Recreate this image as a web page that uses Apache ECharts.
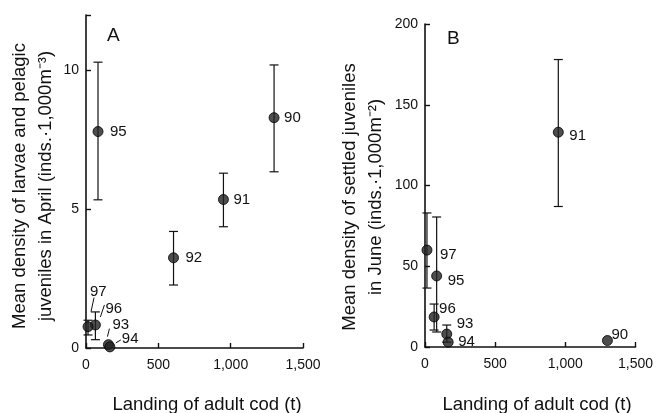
<!DOCTYPE html>
<html><head><meta charset="utf-8">
<script src="https://cdn.jsdelivr.net/npm/echarts@6/dist/echarts.min.js"></script>
<style>html,body{margin:0;padding:0;background:#fff}#c{width:656px;height:413px}</style>
</head><body><div id="c"></div>
<script>
// Data
const years = ['90','91','92','93','94','95','96','97'];
const landing = [1300, 950, 605, 155, 165, 83, 65, 14];
// Panel A: larvae and pelagic juveniles in April
const aMean = [8.3, 5.35, 3.25, 0.12, 0.04, 7.8, 0.83, 0.77];
const aLow  = [6.35, 4.37, 2.27, null, null, 5.34, 0.3, 0.47];
const aHigh = [10.2, 6.3, 4.2, null, null, 10.3, 1.3, 1.0];
// Panel B: settled juveniles in June (no 92)
const bMean = [4, 133, null, 8, 3, 44, 18.6, 60];
const bLow  = [null, 87, null, 3, null, 9.3, 10.5, 36.5];
const bHigh = [null, 178, null, 13.6, null, 80.5, 26.6, 83];
const xTicks = [0, 500, 1000, 1500];
const aTicks = [0, 5, 10];
const bTicks = [0, 50, 100, 150, 200];

// label placement styles (pixel offsets from point)
const aLabelStyle = {
  '90': {dx: 10, dy: 0}, '91': {dx: 10, dy: 0}, '92': {dx: 12, dy: 0}, '95': {dx: 12, dy: 0},
  '97': {dx: 2, dy: -35, line: [6, -29, 3, -15]},
  '96': {dx: 10, dy: -16, line: [9, -20, 5, -8]},
  '93': {dx: 4, dy: -20, line: [1, -16, -1, -8]},
  '94': {dx: 12, dy: -8, line: [11, -7, 6, -4]}
};
const bLabelStyle = {
  '90': {dx: 4, dy: -6}, '91': {dx: 11, dy: 4}, '97': {dx: 13, dy: 5}, '95': {dx: 11, dy: 5},
  '96': {dx: 5, dy: -8}, '93': {dx: 10, dy: -10}, '94': {dx: 10, dy: 0}
};

function build(mean, low, high) {
  const pts = [], bars = [], labs = [];
  for (let i = 0; i < years.length; i++) {
    if (mean[i] == null) continue;
    pts.push([landing[i], mean[i]]);
    labs.push([landing[i], mean[i], years[i]]);
    if (low[i] != null) bars.push([landing[i], low[i], high[i]]);
  }
  return {pts, bars, labs};
}
const A = build(aMean, aLow, aHigh);
const B = build(bMean, bLow, bHigh);

const INK = '#111';
const FONT = '"Liberation Sans", Arial, sans-serif';

function errRender(params, api) {
  const x = api.value(0);
  const p1 = api.coord([x, api.value(1)]);
  const p2 = api.coord([x, api.value(2)]);
  const w = 4.5;
  const st = {stroke: INK, lineWidth: 1.2};
  return {type: 'group', children: [
    {type: 'line', shape: {x1: p1[0], y1: p1[1], x2: p2[0], y2: p2[1]}, style: st},
    {type: 'line', shape: {x1: p1[0]-w, y1: p1[1], x2: p1[0]+w, y2: p1[1]}, style: st},
    {type: 'line', shape: {x1: p2[0]-w, y1: p2[1], x2: p2[0]+w, y2: p2[1]}, style: st}
  ]};
}
function labRender(styles) {
  return function(params, api) {
    const p = api.coord([api.value(0), api.value(1)]);
    const key = years[landing.indexOf(api.value(0))];
    const s = styles[key] || {dx: 10, dy: 0};
    const ch = [{type: 'text', x: p[0] + s.dx, y: p[1] + s.dy,
      style: {text: key, fill: INK, font: '15px ' + FONT, textAlign: 'left', textVerticalAlign: 'middle'}}];
    if (s.line) ch.push({type: 'line', shape: {x1: p[0]+s.line[0], y1: p[1]+s.line[1], x2: p[0]+s.line[2], y2: p[1]+s.line[3]},
      style: {stroke: INK, lineWidth: 1}});
    return {type: 'group', children: ch};
  };
}

function xAxis(gi) {
  return {gridIndex: gi, type: 'value', min: 0, max: 1500, interval: 500,
    axisLine: {show: true, onZero: false, lineStyle: {color: INK, width: 1.6}},
    axisTick: {show: true, inside: true, length: 5, lineStyle: {color: INK, width: 1.4}},
    axisLabel: {color: INK, fontSize: 14, fontFamily: FONT, margin: 10,
      formatter: v => v.toLocaleString('en-US')},
    splitLine: {show: false}};
}
function yAxis(gi, max, interval, tickVals, labelVals) {
  return {gridIndex: gi, type: 'value', min: 0, max: max, interval: interval,
    axisLine: {show: true, lineStyle: {color: INK, width: 1.6}},
    axisTick: {show: true, inside: true, length: 5, customValues: tickVals, lineStyle: {color: INK, width: 1.4}},
    axisLabel: {color: INK, fontSize: 14, fontFamily: FONT, margin: 7, customValues: labelVals},
    splitLine: {show: false}};
}

const chart = echarts.init(document.getElementById('c'), null, {renderer: 'canvas'});
chart.setOption({
  backgroundColor: '#fff',
  animation: false,
  grid: [
    {left: 86, top: 15, width: 217, height: 333},
    {left: 425, top: 24, width: 212, height: 323}
  ],
  xAxis: [xAxis(0), xAxis(1)],
  yAxis: [
    yAxis(0, 12, 5, aTicks.concat([12]), aTicks),
    yAxis(1, 200, 50, bTicks, bTicks)
  ],
  graphic: [
    {type: 'text', x: 107, y: 36, style: {text: 'A', font: '19px ' + FONT, fill: INK, textAlign: 'left', textVerticalAlign: 'middle'}},
    {type: 'text', x: 447, y: 39, style: {text: 'B', font: '19px ' + FONT, fill: INK, textAlign: 'left', textVerticalAlign: 'middle'}},
    {type: 'text', x: 33, y: 186, rotation: Math.PI / 2,
      style: {text: 'Mean density of larvae and pelagic\njuveniles in April (inds.\u00b71,000m\u207b\u00b3)', font: '18.5px ' + FONT,
        lineHeight: 26, fill: INK, textAlign: 'center', textVerticalAlign: 'middle'}},
    {type: 'text', x: 363, y: 197, rotation: Math.PI / 2,
      style: {text: 'Mean density of settled juveniles\nin June (inds.\u00b71,000m\u207b\u00b2)', font: '18.5px ' + FONT,
        lineHeight: 26, fill: INK, textAlign: 'center', textVerticalAlign: 'middle'}},
    {type: 'text', x: 207, y: 405, style: {text: 'Landing of adult cod (t)', font: '18.5px ' + FONT, fill: INK, textAlign: 'center', textVerticalAlign: 'middle'}},
    {type: 'text', x: 537, y: 405, style: {text: 'Landing of adult cod (t)', font: '18.5px ' + FONT, fill: INK, textAlign: 'center', textVerticalAlign: 'middle'}}
  ],
  series: [
    {type: 'custom', xAxisIndex: 0, yAxisIndex: 0, data: A.bars, renderItem: errRender, z: 2},
    {type: 'scatter', xAxisIndex: 0, yAxisIndex: 0, data: A.pts, symbolSize: 10,
      itemStyle: {color: '#222', borderColor: '#000', borderWidth: 1}, z: 3},
    {type: 'custom', xAxisIndex: 0, yAxisIndex: 0, data: A.labs, renderItem: labRender(aLabelStyle), z: 4},
    {type: 'custom', xAxisIndex: 1, yAxisIndex: 1, data: B.bars, renderItem: errRender, z: 2},
    {type: 'scatter', xAxisIndex: 1, yAxisIndex: 1, data: B.pts, symbolSize: 10,
      itemStyle: {color: '#222', borderColor: '#000', borderWidth: 1}, z: 3},
    {type: 'custom', xAxisIndex: 1, yAxisIndex: 1, data: B.labs, renderItem: labRender(bLabelStyle), z: 4}
  ]
});
</script></body></html>
